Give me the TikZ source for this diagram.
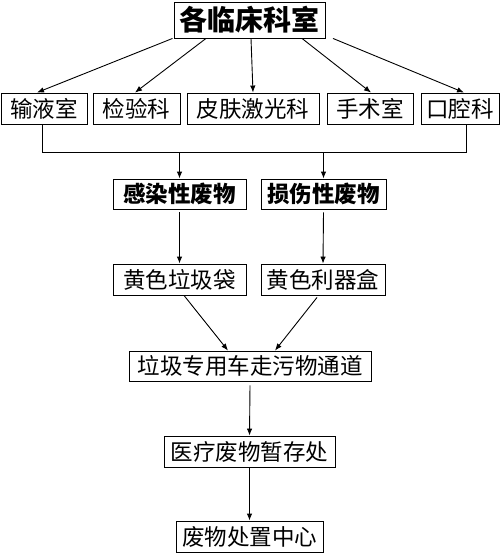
\documentclass[tikz,border=0pt]{standalone}
\usepackage{fontspec}
\setmainfont{Noto Sans CJK SC}
\usetikzlibrary{arrows.meta}
\tikzset{
  box/.style={draw, line width=0.9pt, inner sep=0pt, font=\fontsize{22.5}{25}\selectfont},
  boldbox/.style={box, font=\fontsize{22.5}{25}\selectfont\bfseries},
  arr/.style={line width=0.9pt, -{Latex[length=7pt,width=5.5pt]}},
  ln/.style={line width=0.9pt}
}
\begin{document}
\begin{tikzpicture}[x=1pt,y=-1pt]
\useasboundingbox[fill=white] (0,0) rectangle (500,554);
\node[box, font=\fontsize{28}{31}\selectfont\bfseries, minimum width=151pt, minimum height=36pt] (top) at (249.5,20) {各临床科室};
\node[box, minimum width=86pt, minimum height=31pt] (a1) at (44,108.5) {输液室};
\node[box, minimum width=87pt, minimum height=31pt] (a2) at (136.5,108.5) {检验科};
\node[box, minimum width=132pt, minimum height=31pt] (a3) at (253,108.5) {皮肤激光科};
\node[box, minimum width=86pt, minimum height=31pt] (a4) at (370,108.5) {手术室};
\node[box, minimum width=78pt, minimum height=31pt] (a5) at (460,108.5) {口腔科};
\node[boldbox, minimum width=133pt, minimum height=30pt] (b1) at (179.5,194) {感染性废物};
\node[boldbox, minimum width=125pt, minimum height=30pt] (b2) at (323.5,194) {损伤性废物};
\node[box, minimum width=133pt, minimum height=31pt] (c1) at (179.5,279.5) {黄色垃圾袋};
\node[box, minimum width=124pt, minimum height=31pt] (c2) at (323,279.5) {黄色利器盒};
\node[box, minimum width=242pt, minimum height=30pt] (d) at (250,366) {垃圾专用车走污物通道};
\node[box, minimum width=171pt, minimum height=31pt] (e) at (249.5,451.5) {医疗废物暂存处};
\node[box, minimum width=147pt, minimum height=31pt] (f) at (249.5,536.5) {废物处置中心};
% top to departments
\draw[arr] ([xshift=-77pt]top.south) -- ([xshift=-7pt]a1.north);
\draw[arr] ([xshift=-43.5pt]top.south) -- ([xshift=-1.5pt]a2.north);
\draw[arr] ([xshift=1.5pt]top.south) -- (a3.north);
\draw[arr] ([xshift=52.5pt]top.south) -- ([xshift=1pt]a4.north);
\draw[arr] ([xshift=83.5pt]top.south) -- ([xshift=4pt]a5.north);
% collecting bracket
\coordinate (bl) at (42,152);
\coordinate (br) at (466,152);
\draw[ln] ([xshift=-2pt]a1.south) -- (bl) -- (br) -- ([xshift=6pt]a5.south);
\draw[arr] (b1.north |- bl) -- (b1.north);
\draw[arr] (b2.north |- br) -- (b2.north);
% waste types to containers
\draw[arr] ([yshift=-3pt]b1.south) -- (c1.north);
\draw[arr] ([yshift=-3pt]b2.south) -- (c2.north);
% containers to transport
\draw[arr] ([xshift=4.5pt]c1.south) -- ([xshift=-22pt]d.north);
\draw[arr] ([xshift=-6pt,yshift=-2pt]c2.south) -- ([xshift=25pt]d.north);
\draw[arr] ([yshift=-4pt]d.south) -- (e.north);
\draw[arr] (e.south) -- (f.north);
\end{tikzpicture}
\end{document}
